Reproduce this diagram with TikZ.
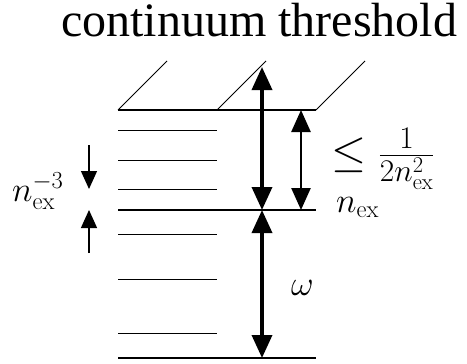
\RequirePackage{fix-cm}
\documentclass[tikz,border=0pt]{standalone}
\usepackage[no-math]{fontspec}
\newfontfamily\titlefont{Liberation Serif}
\usetikzlibrary{arrows.meta}
\begin{document}
\begin{tikzpicture}[x=1pt,y=-1pt,
  levelline/.style={line width=0.9pt},
  mainline/.style={line width=1.5pt},
  diag/.style={line width=0.8pt},
  bigarrow/.style={line width=3.5pt,{Triangle[length=23pt,width=20pt]}-{Triangle[length=23pt,width=20pt]}},
  midarrow/.style={line width=2.6pt,{Triangle[length=22pt,width=19pt]}-{Triangle[length=22pt,width=19pt]}},
  smallarrow/.style={line width=1.3pt,-{Triangle[length=18pt,width=16pt]}},
  mathlabel/.style={inner sep=0pt,font=\fontsize{35}{40}\selectfont}
]
\useasboundingbox (0,0) rectangle (467,364);
% title
\node[anchor=base west,inner sep=0pt,font=\fontsize{48}{52}\titlefont] (title) at (61,36) {continuum threshold};
% threshold and main levels
\coordinate (tl) at (118,110); \coordinate (tm) at (217,110); \coordinate (tr) at (316,110);
\coordinate (dl) at (167,61); \coordinate (dm) at (266,61); \coordinate (dr) at (365,61);
\coordinate (nl) at (118,210); \coordinate (nr) at (316,210);
\coordinate (bl) at (118,358); \coordinate (br) at (316,358);
\draw[mainline] (tl) -- (tr);
\draw[diag] (tl) -- (dl);
\draw[diag] (tm) -- (dm);
\draw[diag] (tr) -- (dr);
\draw[mainline] (nl) -- (nr);
\draw[mainline] (bl) -- (br);
% short levels
\foreach \y [count=\i] in {130,160,189,234,279,333}{
  \coordinate (s\i a) at (118,\y);
  \coordinate (s\i b) at (217,\y);
  \draw[levelline] (s\i a) -- (s\i b);
}
% big arrows
\coordinate (a1t) at (262,67); \coordinate (a1b) at (262,210); \coordinate (a2b) at (262,358);
\draw[bigarrow] (a1t) -- (a1b);
\draw[bigarrow] (a1b) -- (a2b);
\coordinate (a3t) at (301,110); \coordinate (a3b) at (301,210);
\draw[midarrow] (a3t) -- (a3b);
% small arrows on the left
\coordinate (la1) at (89,145); \coordinate (la2) at (89,189);
\coordinate (lb1) at (89,253); \coordinate (lb2) at (89,210);
\draw[smallarrow] (la1) -- (la2);
\draw[smallarrow] (lb1) -- (lb2);
% labels
\node[inner sep=0pt,anchor=base west,font=\fontsize{45}{50}\selectfont] (leq) at (331,166) {$\leq\frac{1}{2n_{\mathrm{ex}}^2}$};
\node[mathlabel,anchor=base west] (nex) at (336,212) {$n_{\mathrm{ex}}$};
\node[mathlabel,anchor=base west] (om) at (291,295) {$\omega$};
\node[mathlabel,anchor=base west] (spacing) at (12,201) {$n_{\mathrm{ex}}^{-3}$};
\end{tikzpicture}
\end{document}
